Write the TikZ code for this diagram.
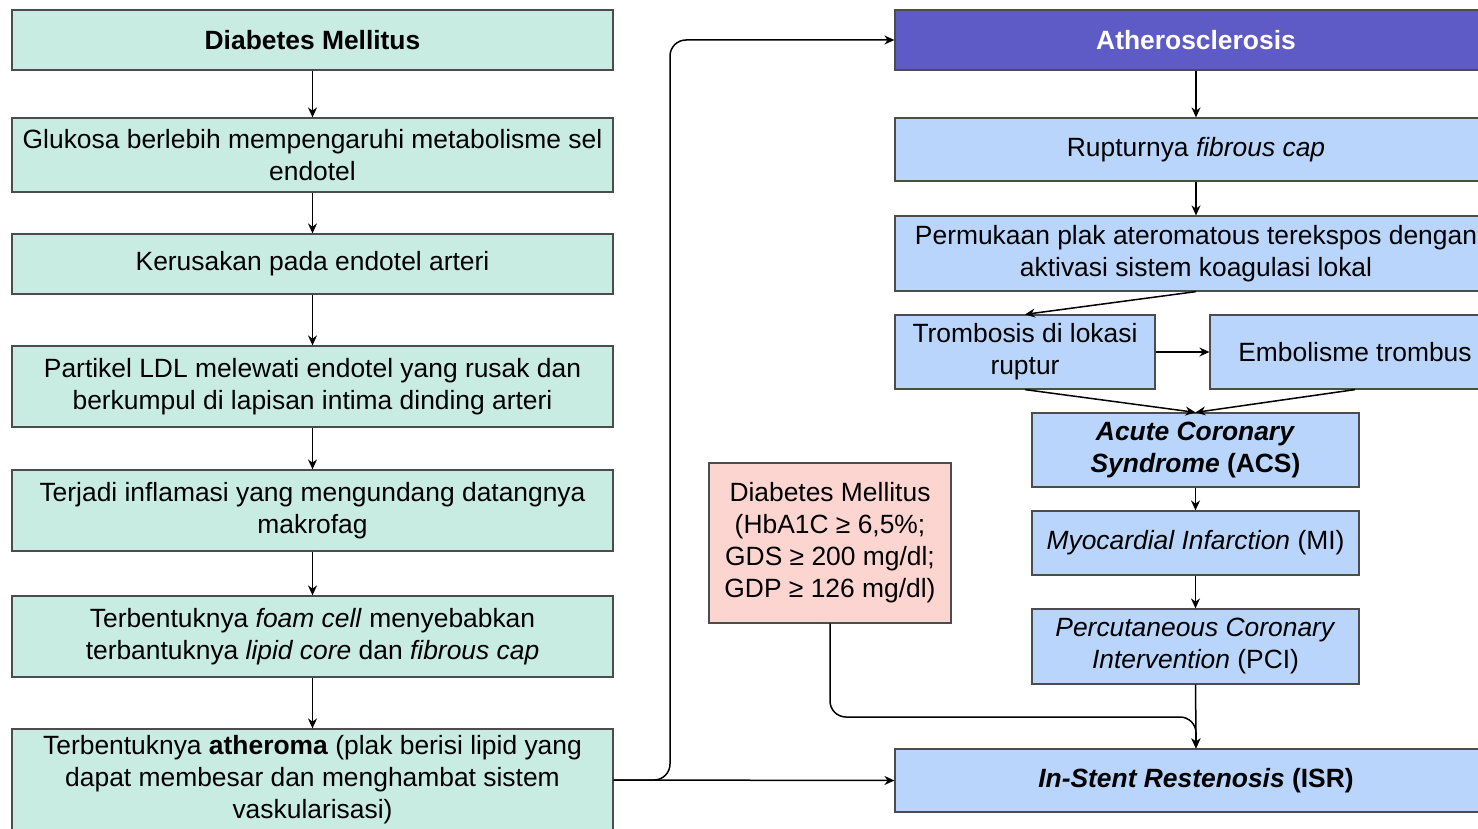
\documentclass[tikz,border=0pt]{standalone}
\usepackage{fontspec}
\setmainfont{Liberation Sans}
\usetikzlibrary{arrows.meta}
\definecolor{hijau}{HTML}{C8EBE2}
\definecolor{biru}{HTML}{B9D5FB}
\definecolor{ungu}{HTML}{5F5BC6}
\definecolor{merah}{HTML}{FCD5D1}

\begin{document}
\begin{tikzpicture}[x=0.5pt,y=-0.5pt,
                box/.style={draw=black!70, line width=0.6pt, align=center, inner sep=0pt, font=\fontsize{13.2}{16}\selectfont},
                kiri/.style={box, fill=hijau, minimum width=300.5pt},
                kanan/.style={box, fill=biru, minimum width=301pt},
                panah/.style={-{Stealth[length=5pt,width=4.5pt]}, line width=0.75pt}]
                \useasboundingbox (0,0) rectangle (1478,829);
                \clip (0,0) rectangle (1478,829);

                \node[kiri, minimum height=30pt] (dm) at (312.5,40) {\textbf{Diabetes Mellitus}};
                \node[kiri, minimum height=37pt] (glukosa) at (312.5,155) {Glukosa berlebih mempengaruhi metabolisme sel\\endotel};
                \node[kiri, minimum height=30pt] (kerusakan) at (312.5,264) {Kerusakan pada endotel arteri};
                \node[kiri, minimum height=40.5pt] (ldl) at (312.5,386.5) {Partikel LDL melewati endotel yang rusak dan\\berkumpul di lapisan intima dinding arteri};
                \node[kiri, minimum height=40.5pt] (inflamasi) at (312.5,510.5) {Terjadi inflamasi yang mengundang datangnya\\makrofag};
                \node[kiri, minimum height=40.5pt] (foam) at (312.5,636.5) {Terbentuknya \textit{foam cell} menyebabkan\\terbantuknya \textit{lipid core} dan \textit{fibrous cap}};
                \node[kiri, minimum height=51pt] (atheroma) at (312.5,780) {Terbentuknya \textbf{atheroma} (plak berisi lipid yang\\dapat membesar dan menghambat sistem\\vaskularisasi)};

                \node[kanan, fill=ungu, text=white, minimum height=30pt] (ather) at (1196,40) {\textbf{Atherosclerosis}};
                \node[kanan, minimum height=31.5pt] (ruptur) at (1196,149.5) {Rupturnya \textit{fibrous cap}};
                \node[kanan, minimum height=37.5pt] (permukaan) at (1196,253.5) {Permukaan plak ateromatous terekspos dengan\\aktivasi sistem koagulasi lokal};
                \node[box, fill=biru, minimum width=130pt, minimum height=37pt] (trombosis) at (1025,352) {Trombosis di lokasi\\ruptur};
                \node[box, fill=biru, minimum width=145pt, minimum height=37pt] (embolisme) at (1355,352) {Embolisme trombus};
                \node[box, fill=biru, minimum width=163.5pt, minimum height=37pt] (acs) at (1195.5,450) {\textbf{\textit{Acute Coronary}}\\\textbf{\textit{Syndrome} (ACS)}};
                \node[box, fill=biru, minimum width=163.5pt, minimum height=32pt] (mi) at (1195.5,543) {\textit{Myocardial Infarction} (MI)};
                \node[box, fill=biru, minimum width=163.5pt, minimum height=37.5pt] (pci) at (1195.5,646.5) {\textit{Percutaneous Coronary}\\\textit{Intervention} (PCI)};
                \node[kanan, minimum height=31.5pt] (isr) at (1196,780.5) {\textbf{\textit{In-Stent Restenosis} (ISR)}};
                \node[box, fill=merah, minimum width=121pt, minimum height=80pt] (dmdua) at (830,543) {Diabetes Mellitus\\(HbA1C ≥ 6,5\%;\\GDS ≥ 200 mg/dl;\\GDP ≥ 126 mg/dl)};

                \coordinate (cabang) at (670,780);
                \coordinate (gabung) at (1196,717);

                \draw[panah] (dm) -- (glukosa);
                \draw[panah] (glukosa) -- (kerusakan);
                \draw[panah] (kerusakan) -- (ldl);
                \draw[panah] (ldl) -- (inflamasi);
                \draw[panah] (inflamasi) -- (foam);
                \draw[panah] (foam) -- (atheroma);

                \draw[panah] (atheroma.east) -- (isr.west);
                \draw[panah, rounded corners=8pt] (atheroma.east) -- (cabang) |- (ather.west);

                \draw[panah] (ather) -- (ruptur);
                \draw[panah] (ruptur) -- (permukaan);
                \draw[panah] (permukaan.south) -- (trombosis.north);
                \draw[panah] (trombosis) -- (embolisme);
                \draw[panah] (trombosis.south) -- (acs.north);
                \draw[panah] (embolisme.south) -- (acs.north);
                \draw[panah] (acs) -- (mi);
                \draw[panah] (mi) -- (pci);
                \draw[panah] (pci) -- (isr);
                \draw[panah, rounded corners=8pt] (dmdua.south) |- (gabung) -- (isr.north);
            \end{tikzpicture}
\end{document}
